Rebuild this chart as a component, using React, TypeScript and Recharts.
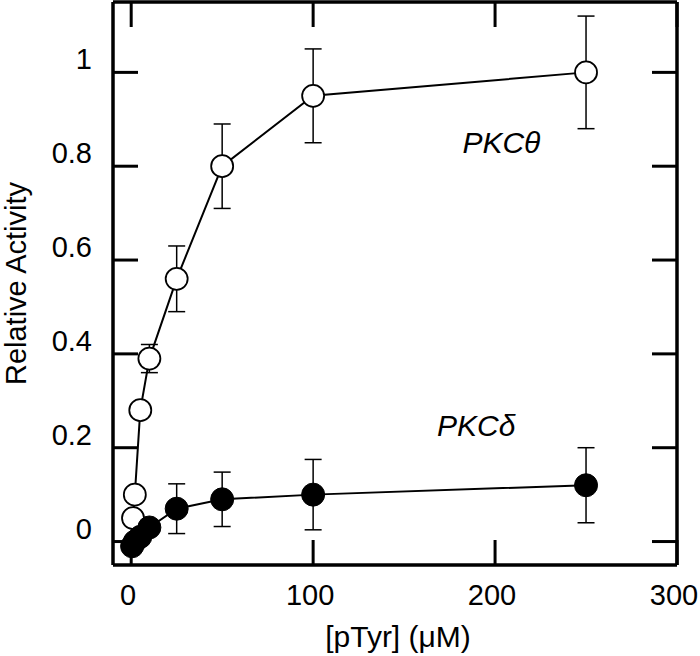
import {
  ErrorBar,
  ReferenceDot,
  Scatter,
  ScatterChart,
  XAxis,
  YAxis,
} from "recharts";

// [pTyr] (µM) and relative activity
const concTheta = [1, 2, 5, 10, 25, 50, 100, 250];
const activityTheta = [0.05, 0.1, 0.28, 0.39, 0.56, 0.8, 0.95, 1.0];
const errorTheta = [0, 0, 0, 0.03, 0.07, 0.09, 0.1, 0.12];

const concDelta = [0.5, 2, 5, 10, 25, 50, 100, 250];
const activityDelta = [-0.01, 0, 0.01, 0.03, 0.07, 0.09, 0.1, 0.12];
const errorDelta = [0, 0, 0, 0, 0.053, 0.058, 0.075, 0.08];

const xTicks = [0, 100, 200, 300];
const yTicks = [0, 0.2, 0.4, 0.6, 0.8, 1];

const xDomain = [-10, 300];
const yDomain = [-0.05, 1.15];

const thetaData = concTheta.map((x, i) => ({ x, y: activityTheta[i], e: errorTheta[i] }));
const deltaData = concDelta.map((x, i) => ({ x, y: activityDelta[i], e: errorDelta[i] }));

const FONT = "'Liberation Sans', Arial, Helvetica, sans-serif";
const TICK_LEN = 25;
const TICK_W = 3;
const FRAME_W = 3.5;

// ticks point inward, labels sit outside
function LeftTick({ x, y, payload }: any) {
  return (
    <g>
      <line x1={x} y1={y} x2={x + TICK_LEN} y2={y} stroke="#000" strokeWidth={TICK_W} />
      <text x={x - 21} y={y - 3} textAnchor="end" fontSize={29} fontFamily={FONT} fill="#000">
        {payload.value}
      </text>
    </g>
  );
}

function RightTick({ x, y }: any) {
  return <line x1={x} y1={y} x2={x - TICK_LEN} y2={y} stroke="#000" strokeWidth={TICK_W} />;
}

function BottomTick({ x, y, payload }: any) {
  return (
    <g>
      <line x1={x} y1={y} x2={x} y2={y - TICK_LEN} stroke="#000" strokeWidth={TICK_W} />
      <text x={x - 3} y={y + 40} textAnchor="middle" fontSize={29} fontFamily={FONT} fill="#000">
        {payload.value}
      </text>
    </g>
  );
}

function TopTick({ x, y }: any) {
  return <line x1={x} y1={y} x2={x} y2={y + TICK_LEN} stroke="#000" strokeWidth={TICK_W} />;
}

const OpenCircle = (p: any) => (
  <circle cx={p.cx} cy={p.cy} r={11} fill="#fff" stroke="#000" strokeWidth={1.8} />
);
const FilledCircle = (p: any) => (
  <circle cx={p.cx} cy={p.cy} r={11.5} fill="#000" stroke="#000" strokeWidth={1} />
);
const NoShape = () => <g />;

const seriesLabel = (text: string) => (p: any) => (
  <text
    x={p.viewBox.x + p.viewBox.width / 2}
    y={p.viewBox.y + p.viewBox.height / 2}
    textAnchor="middle"
    fontSize={30}
    fontStyle="italic"
    fontFamily={FONT}
    fill="#000"
  >
    {text}
  </text>
);

export default function App() {
  return (
    <div style={{ position: "absolute", left: 0, top: 0, background: "#fff" }}>
      <ScatterChart width={700} height={656} margin={{ top: 1, right: 22, bottom: 0, left: 0 }}>
        <XAxis
          dataKey="x"
          type="number"
          domain={xDomain}
          ticks={xTicks}
          allowDataOverflow
          height={91}
          axisLine={{ stroke: "#000", strokeWidth: FRAME_W }}
          tickLine={false}
          tickSize={0}
          tickMargin={0}
          tick={<BottomTick />}
          label={(p: any) => (
            <text
              x={p.viewBox.x + p.viewBox.width / 2 + 3}
              y={p.viewBox.y + 82}
              textAnchor="middle"
              fontSize={30}
              fontFamily={FONT}
              fill="#000"
            >
              [pTyr] (μM)
            </text>
          )}
        />
        <XAxis
          xAxisId="top"
          orientation="top"
          dataKey="x"
          type="number"
          domain={xDomain}
          ticks={xTicks}
          allowDataOverflow
          height={1}
          axisLine={{ stroke: "#000", strokeWidth: FRAME_W }}
          tickLine={false}
          tickSize={0}
          tickMargin={0}
          tick={<TopTick />}
        />
        <YAxis
          dataKey="y"
          type="number"
          domain={yDomain}
          ticks={yTicks}
          allowDataOverflow
          width={113}
          axisLine={{ stroke: "#000", strokeWidth: FRAME_W }}
          tickLine={false}
          tickSize={0}
          tickMargin={0}
          tick={<LeftTick />}
          label={(p: any) => {
            const cy = p.viewBox.y + p.viewBox.height / 2;
            return (
              <text
                x={26}
                y={cy}
                transform={`rotate(-90, 26, ${cy})`}
                textAnchor="middle"
                fontSize={29}
                fontFamily={FONT}
                fill="#000"
              >
                Relative Activity
              </text>
            );
          }}
        />
        <YAxis
          yAxisId="right"
          orientation="right"
          dataKey="y"
          type="number"
          domain={yDomain}
          ticks={yTicks}
          allowDataOverflow
          width={1}
          axisLine={{ stroke: "#000", strokeWidth: FRAME_W }}
          tickLine={false}
          tickSize={0}
          tickMargin={0}
          tick={<RightTick />}
        />
        {/* invisible series so the top and right frame axes get drawn */}
        <Scatter
          xAxisId="top"
          yAxisId="right"
          data={thetaData}
          shape={NoShape}
          legendType="none"
          isAnimationActive={false}
        />
        <Scatter
          data={thetaData}
          line={{ stroke: "#000", strokeWidth: 2 }}
          shape={OpenCircle}
          isAnimationActive={false}
        >
          <ErrorBar dataKey="e" direction="y" width={8.5} stroke="#000" strokeWidth={1.5} />
        </Scatter>
        <Scatter
          data={deltaData}
          line={{ stroke: "#000", strokeWidth: 2 }}
          shape={FilledCircle}
          isAnimationActive={false}
        >
          <ErrorBar dataKey="e" direction="y" width={8.5} stroke="#000" strokeWidth={1.5} />
        </Scatter>
        <ReferenceDot x={203.5} y={0.829} r={0} fill="none" stroke="none" label={seriesLabel("PKCθ")} />
        <ReferenceDot x={189.6} y={0.226} r={0} fill="none" stroke="none" label={seriesLabel("PKCδ")} />
      </ScatterChart>
    </div>
  );
}
